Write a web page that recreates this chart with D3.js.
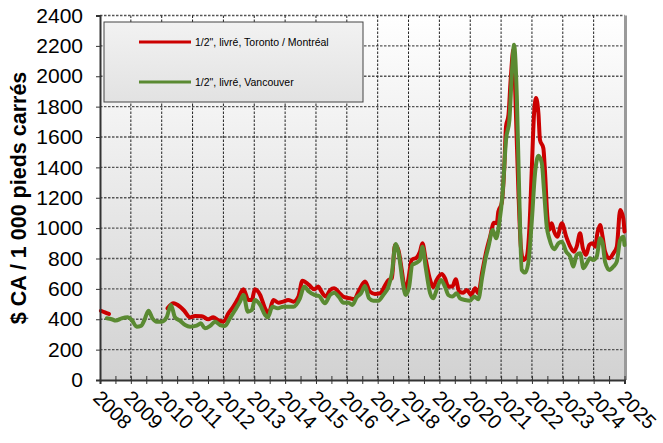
<!DOCTYPE html>
<html><head><meta charset="utf-8">
<script src="https://cdn.jsdelivr.net/npm/d3@7/dist/d3.min.js"></script>
<style>body{margin:0;background:#fff}svg{display:block;font-family:Arial,"Liberation Sans",sans-serif}</style>
</head><body><svg id="c" width="663" height="443"></svg>
<script>
const yTicks = [0,200,400,600,800,1000,1200,1400,1600,1800,2000,2200,2400];
const xYears = [2008,2009,2010,2011,2012,2013,2014,2015,2016,2017,2018,2019,2020,2021,2022,2023,2024,2025];
const seriesNames = ['1/2", livré, Toronto / Montréal', '1/2", livré, Vancouver'];
const yTitle = "$ CA / 1 000 pieds carrés";

const torontoDates = [2008.03,2008.16,2008.29,2009.0,
 2010.19,2010.38,2010.59,2010.73,2010.92,2011.08,2011.30,2011.51,2011.67,2011.83,2012.00,2012.16,2012.32,2012.48,2012.65,2012.81,2012.92,
 2013.02,2013.19,2013.35,2013.46,2013.62,2013.78,2013.94,2014.10,2014.27,2014.43,2014.56,2014.77,2014.95,2015.08,2015.16,2015.32,2015.46,2015.59,2015.75,2015.92,
 2016.10,2016.24,2016.40,2016.59,2016.75,2016.91,2017.08,2017.22,2017.33,2017.46,2017.56,2017.67,2017.78,2017.89,2017.99,2018.10,2018.27,2018.37,2018.45,2018.56,2018.70,2018.80,2018.91,
 2019.08,2019.18,2019.29,2019.42,2019.53,2019.64,2019.78,2019.89,2020.03,2020.16,2020.26,2020.39,2020.53,2020.64,2020.77,2020.86,2020.91,
 2021.02,2021.10,2021.16,2021.24,2021.31,2021.40,2021.48,2021.56,2021.64,2021.72,2021.83,2021.92,2021.99,2022.07,2022.13,2022.21,2022.26,2022.37,2022.42,2022.50,2022.56,2022.64,2022.72,2022.82,2022.97,
 2023.11,2023.24,2023.36,2023.45,2023.56,2023.65,2023.75,2023.86,2023.97,2024.05,2024.12,2024.21,2024.29,2024.37,2024.51,2024.64,2024.75,2024.86,2024.96,2025.00];
const torontoValues = [456,445,435,null,
 472,505,483,456,413,422,420,400,413,395,384,439,483,538,597,527,527,
 597,560,472,439,527,509,516,527,516,549,654,626,597,615,588,549,593,604,575,545,
 538,532,593,648,582,567,571,615,654,670,889,856,725,593,659,790,808,845,900,790,659,611,659,
 698,670,615,615,663,582,575,593,560,604,571,713,856,940,1036,1032,1109,
 1164,1383,1669,1746,1976,2174,1757,1252,878,790,812,1010,1361,1757,1856,1757,1581,1526,1383,1076,988,1032,977,944,1032,
 944,878,845,878,966,867,823,889,900,878,966,1021,944,845,801,834,878,1120,1065,977];

const vancouverDates = [2008.22,2008.38,2008.51,2008.70,2008.90,2009.03,2009.19,2009.33,2009.44,2009.57,2009.70,2009.84,2010.00,2010.16,2010.30,2010.43,2010.59,2010.76,2010.92,
 2011.13,2011.27,2011.40,2011.57,2011.73,2011.89,2012.05,2012.21,2012.38,2012.54,2012.65,2012.79,2012.92,2013.02,2013.19,2013.35,2013.44,2013.59,2013.76,2013.94,
 2014.10,2014.27,2014.48,2014.62,2014.77,2014.95,2015.10,2015.29,2015.46,2015.59,2015.75,2015.89,2016.05,2016.18,2016.32,2016.46,2016.59,2016.72,2016.86,
 2017.02,2017.18,2017.35,2017.46,2017.58,2017.69,2017.80,2017.91,2018.02,2018.12,2018.27,2018.37,2018.45,2018.56,2018.70,2018.80,2018.91,
 2019.05,2019.18,2019.29,2019.42,2019.56,2019.67,2019.83,2019.99,2020.13,2020.26,2020.39,2020.51,2020.59,2020.73,2020.84,2020.94,
 2021.05,2021.16,2021.27,2021.35,2021.42,2021.51,2021.59,2021.67,2021.78,2021.88,2021.99,2022.10,2022.21,2022.32,2022.39,2022.48,2022.56,2022.72,2022.86,2022.97,
 2023.11,2023.24,2023.34,2023.45,2023.56,2023.67,2023.78,2023.88,2023.99,2024.10,2024.21,2024.29,2024.37,2024.51,2024.64,2024.75,2024.86,2024.96,2025.00];
const vancouverValues = [406,400,391,406,413,395,351,356,395,456,406,384,384,413,494,413,391,362,351,
 358,373,340,356,384,362,356,406,461,516,560,450,461,527,494,428,413,483,472,483,
 483,483,538,615,582,560,553,505,560,575,545,509,509,494,545,571,619,538,522,
 522,560,615,703,895,823,659,560,615,758,773,790,878,736,571,538,593,
 659,615,560,549,571,538,527,522,549,532,681,812,878,988,933,1032,
 1230,1581,1713,2020,2207,1866,1208,725,707,769,1032,1361,1476,1428,1252,1010,933,861,900,911,
 845,812,747,823,834,736,769,801,790,812,933,900,779,725,747,779,922,944,889];

const colors = ["#CC0000", "#5A8A32"];

const svg = d3.select("#c");
const L = 100, R = 624.5, T = 15.5, B = 380;
const x = d3.scaleLinear().domain([2008, 2025]).range([L, R]);
const y = d3.scaleLinear().domain([0, 2400]).range([B, T]);

const defs = svg.append("defs");
const g1 = defs.append("linearGradient").attr("id","bg").attr("x1",0).attr("y1",0).attr("x2",0).attr("y2",1);
g1.append("stop").attr("offset","0%").attr("stop-color","#ffffff");
g1.append("stop").attr("offset","100%").attr("stop-color","#d2d2d2");
const g2 = defs.append("linearGradient").attr("id","lg").attr("x1",0).attr("y1",0).attr("x2",0).attr("y2",1);
g2.append("stop").attr("offset","0%").attr("stop-color","#f2f2f2");
g2.append("stop").attr("offset","100%").attr("stop-color","#e2e2e2");

svg.append("rect").attr("x",L).attr("y",T).attr("width",R-L).attr("height",B-T).attr("fill","url(#bg)");

// horizontal grid
svg.append("g").selectAll("line").data(yTicks.filter(d=>d>0)).join("line")
  .attr("x1",L).attr("x2",R).attr("y1",d=>y(d)).attr("y2",d=>y(d))
  .attr("stroke","#555").attr("stroke-width",1.3).attr("stroke-dasharray","2.5,1.5");
// vertical grid
svg.append("g").selectAll("line").data(xYears.slice(1,-1)).join("line")
  .attr("x1",d=>x(d)).attr("x2",d=>x(d)).attr("y1",T).attr("y2",B)
  .attr("stroke","#222").attr("stroke-width",1).attr("stroke-dasharray","2.5,1.5");

// right border
svg.append("line").attr("x1",R+1).attr("x2",R+1).attr("y1",T).attr("y2",B)
  .attr("stroke","#9a9a9a").attr("stroke-width",3);

// lines
const line = d3.line().defined(d=>d[1]!=null).x(d=>x(d[0])).y(d=>y(d[1])).curve(d3.curveMonotoneX);
const tor = torontoDates.map((d,i)=>[d, torontoValues[i]]);
const van = vancouverDates.map((d,i)=>[d, vancouverValues[i]]);
svg.append("path").attr("d",line(tor)).attr("fill","none").attr("stroke",colors[0]).attr("stroke-width",4).attr("stroke-linejoin","round").attr("stroke-linecap","round");
svg.append("path").attr("d",line(van)).attr("fill","none").attr("stroke",colors[1]).attr("stroke-width",4).attr("stroke-linejoin","round").attr("stroke-linecap","round");

// y axis
const ya = svg.append("g").attr("transform",`translate(${L},0)`)
  .call(d3.axisLeft(y).tickValues(yTicks).tickSize(4).tickFormat(d3.format("d")));
ya.select(".domain").attr("stroke","#333").attr("stroke-width",2);
ya.selectAll(".tick line").attr("stroke","#333");
ya.selectAll(".tick text").attr("font-size","21px").attr("fill","#000").attr("font-family","Arial, 'Liberation Sans', sans-serif").attr("x",-17);

// x axis with half-year ticks crossing
const halfTicks = d3.range(0, 35).map(i => 2008 + i*0.5);
const xa = svg.append("g").attr("transform",`translate(0,${B})`)
  .call(d3.axisBottom(x).tickValues(halfTicks).tickSize(4).tickFormat(""));
xa.select(".domain").attr("stroke","#333").attr("stroke-width",2);
xa.selectAll(".tick line").attr("stroke","#333").attr("y1",-4).attr("y2",4);

svg.append("g").selectAll("text").data(xYears).join("text")
  .attr("transform",d=>`translate(${x(d)-8},${B+19}) rotate(45)`)
  .attr("font-size","20px").attr("fill","#000").text(d=>d);

// y title
svg.append("text").attr("transform","translate(26,198) rotate(-90)")
  .attr("text-anchor","middle").attr("font-size","21.5px").attr("font-weight","bold").text(yTitle);

// legend
const lg = svg.append("g");
lg.append("rect").attr("x",104).attr("y",22).attr("width",259).attr("height",80)
  .attr("fill","url(#lg)").attr("stroke","#444").attr("stroke-width",1);
[42, 82].forEach((ly,i)=>{
  lg.append("line").attr("x1",139).attr("x2",191).attr("y1",ly).attr("y2",ly).attr("stroke",colors[i]).attr("stroke-width",3);
  lg.append("text").attr("x",195).attr("y",ly+3.5).attr("font-size","10.5px").attr("fill","#000").text(seriesNames[i]);
});
</script></body></html>
